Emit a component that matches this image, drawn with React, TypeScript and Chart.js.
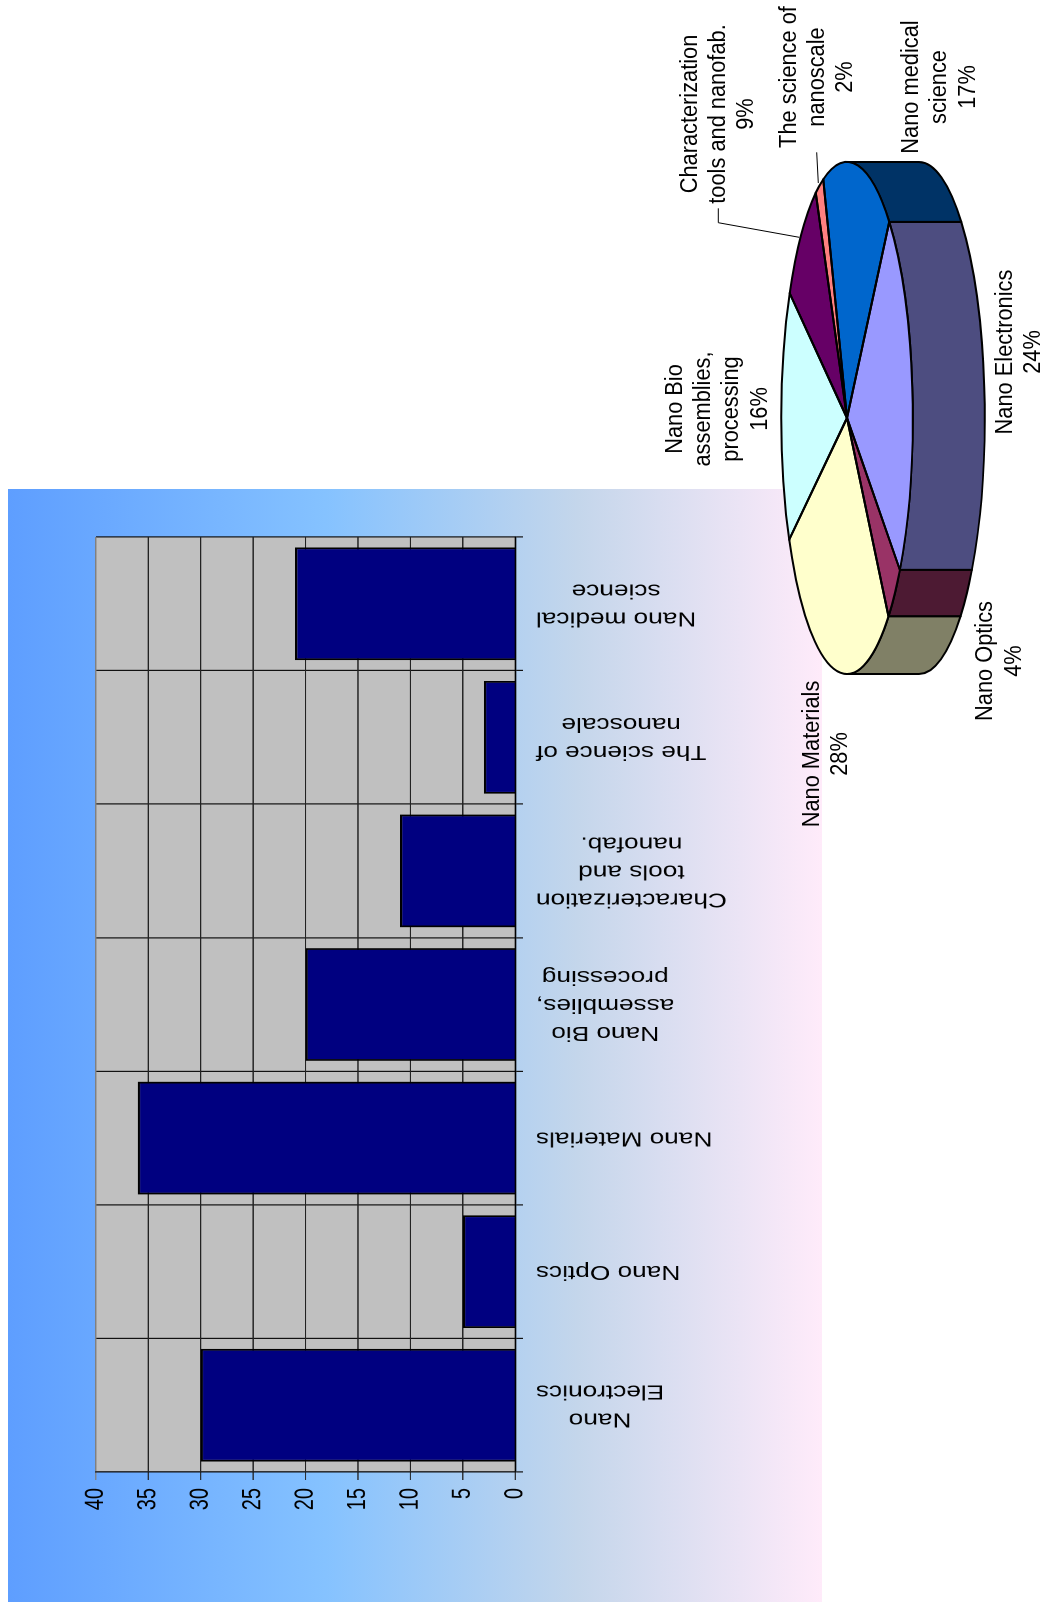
import React, { useEffect, useRef } from "react";
import { Chart, registerables } from "chart.js";

Chart.register(...registerables);

// Publications per research area
const barCategories: string[][] = [
  ["Nano", "Electronics"],
  ["Nano Optics"],
  ["Nano Materials"],
  ["Nano Bio", "assemblies,", "processing"],
  ["Characterization", "tools and", "nanofab."],
  ["The science of", "nanoscale"],
  ["Nano medical", "science"],
];
const barValues = [30, 5, 36, 20, 11, 3, 21];
const valueTicks = { min: 0, max: 40, step: 5 };

// Share of each research area, as labelled on the pie
const pieNames: string[][] = [
  ["Nano Electronics"],
  ["Nano Optics"],
  ["Nano Materials"],
  ["Nano Bio", "assemblies,", "processing"],
  ["Characterization", "tools and nanofab."],
  ["The science of", "nanoscale"],
  ["Nano medical", "science"],
];
const piePercents = [24, 4, 28, 16, 9, 2, 17];
const pieTopColors = ["#9999FF", "#993366", "#FFFFCC", "#CCFFFF", "#660066", "#FF8080", "#0066CC"];
const pieWallColors = ["#4D4D80", "#4D1A33", "#808066", "#668080", "#330033", "#804040", "#003366"];

// Page-sized drawing frame; it is turned a quarter turn to lie on its side
const FRAME_W = 1610;
const FRAME_H = 1045;

const FONT = '"Liberation Sans", Arial, sans-serif';

// Bar panel layout
const PANEL = { left: 8, top: 8, width: 1113, height: 814 };
const BAR_CANVAS_H = 621;
const BAR_STRETCH = PANEL.height / BAR_CANVAS_H;

// Pie geometry
const PIE = { cx: 1192, cy: 847, rx: 256, squash: 0.2566, depth: 72, rotation: 130 };
const PIE_TEXT_STRETCH = 1.12;
const PIE_LINE_GAP = 28.3;
const pieLabelPlaces = [
  { u: 1258, v: 1011.7 },
  { u: 949, v: 992.3 },
  { u: 856, v: 819 },
  { u: 1201, v: 681.7 },
  { u: 1496, v: 696.7 },
  { u: 1533, v: 795.7 },
  { u: 1523, v: 918 },
];
const leaderLines = [
  [
    [1401.7, 718.3],
    [1387.3, 718.3],
    [1372.7, 799.3],
  ],
  [
    [1457.7, 816.7],
    [1427, 818.3],
  ],
];

const plotBackdrop = {
  id: "plotBackdrop",
  beforeDraw(chart: any) {
    const { ctx, chartArea: a } = chart;
    ctx.save();
    ctx.fillStyle = "#C0C0C0";
    ctx.fillRect(a.left, a.top, a.right - a.left, a.bottom - a.top);
    ctx.restore();
  },
};

// Category names run sideways, each block starting at the same distance from
// the axis with its lines centred on one another.
const categoryLabels = {
  id: "categoryLabels",
  afterDraw(chart: any) {
    const { ctx, scales } = chart;
    const start = (536 - PANEL.top) / BAR_STRETCH;
    ctx.save();
    ctx.font = `20px ${FONT}`;
    ctx.fillStyle = "#000";
    ctx.textAlign = "center";
    ctx.textBaseline = "middle";
    barCategories.forEach((lines, i) => {
      const widest = Math.max(...lines.map((l) => ctx.measureText(l).width));
      const x = scales.x.getPixelForTick(i);
      lines.forEach((line, j) => {
        ctx.save();
        ctx.translate(x + (j - (lines.length - 1) / 2) * 28, start + widest / 2);
        ctx.rotate(-Math.PI / 2);
        ctx.fillText(line, 0, 0);
        ctx.restore();
      });
    });
    ctx.restore();
  },
};

// Draws the side wall under the front half of the rim, then flattens the
// library's arcs into an ellipse.
const pieDepth = {
  id: "pieDepth",
  beforeDatasetsDraw(chart: any) {
    const { ctx } = chart;
    const arcs = chart.getDatasetMeta(0).data;
    const ry = PIE.rx * PIE.squash;
    ctx.save();
    ctx.strokeStyle = "#000";
    ctx.lineWidth = 2;
    ctx.lineJoin = "round";
    arcs.forEach((arc: any, i: number) => {
      for (let k = -1; k <= 2; k++) {
        const lo = Math.max(arc.startAngle, k * 2 * Math.PI);
        const hi = Math.min(arc.endAngle, k * 2 * Math.PI + Math.PI);
        if (hi <= lo) continue;
        ctx.beginPath();
        ctx.ellipse(arc.x, arc.y, PIE.rx, ry, 0, lo, hi);
        ctx.ellipse(arc.x, arc.y + PIE.depth, PIE.rx, ry, 0, hi, lo, true);
        ctx.closePath();
        ctx.fillStyle = pieWallColors[i];
        ctx.fill();
        ctx.stroke();
      }
    });
    ctx.restore();

    const { x, y } = arcs[0];
    ctx.save();
    ctx.translate(x, y);
    ctx.scale(1, PIE.squash);
    ctx.translate(-x, -y);
  },
  afterDatasetsDraw(chart: any) {
    const { ctx } = chart;
    ctx.restore();
    const arcs = chart.getDatasetMeta(0).data;
    const ry = PIE.rx * PIE.squash;
    ctx.save();
    ctx.strokeStyle = "#000";
    ctx.lineWidth = 2;
    ctx.lineJoin = "round";
    arcs.forEach((arc: any) => {
      ctx.beginPath();
      ctx.moveTo(arc.x, arc.y);
      ctx.ellipse(arc.x, arc.y, PIE.rx, ry, 0, arc.startAngle, arc.endAngle);
      ctx.closePath();
      ctx.stroke();
    });
    ctx.restore();
  },
};

const pieCaptions = {
  id: "pieCaptions",
  afterDraw(chart: any) {
    const { ctx } = chart;
    ctx.save();
    ctx.strokeStyle = "#000";
    ctx.lineWidth = 1;
    leaderLines.forEach((pts) => {
      ctx.beginPath();
      pts.forEach(([u, v], i) => (i ? ctx.lineTo(u, v) : ctx.moveTo(u, v)));
      ctx.stroke();
    });
    ctx.font = `21.8px ${FONT}`;
    ctx.fillStyle = "#000";
    ctx.textAlign = "center";
    ctx.textBaseline = "alphabetic";
    pieNames.forEach((name, i) => {
      const lines = [...name, `${piePercents[i]}%`];
      const place = pieLabelPlaces[i];
      lines.forEach((line, j) => {
        ctx.save();
        ctx.translate(place.u, place.v + j * PIE_LINE_GAP);
        ctx.scale(1, PIE_TEXT_STRETCH);
        ctx.fillText(line, 0, 0);
        ctx.restore();
      });
    });
    ctx.restore();
  },
};

export default function App() {
  const barRef = useRef<HTMLCanvasElement>(null);
  const pieRef = useRef<HTMLCanvasElement>(null);

  useEffect(() => {
    document.body.style.margin = "0";

    const bar = new Chart(barRef.current!, {
      type: "bar",
      data: {
        labels: barCategories.map((l) => l.join(" ")),
        datasets: [
          {
            data: barValues,
            backgroundColor: "#000080",
            borderColor: "#000",
            borderWidth: 1.8,
            barPercentage: 0.844,
            categoryPercentage: 1,
          },
        ],
      },
      options: {
        responsive: false,
        animation: false,
        devicePixelRatio: 2,
        layout: { padding: { left: 0, right: 48, top: 67, bottom: 0 } },
        plugins: { legend: { display: false }, tooltip: { enabled: false } },
        scales: {
          x: {
            afterFit: (s: any) => {
              s.height = 234;
            },
            ticks: { display: false, autoSkip: false },
            border: { color: "#000", width: 1.2 },
            grid: {
              offset: true,
              tickLength: 6,
              lineWidth: 1.2,
              color: (c: any) => (c.index === barValues.length ? "#808080" : "#111"),
            },
          },
          y: {
            min: valueTicks.min,
            max: valueTicks.max,
            afterFit: (s: any) => {
              s.width = 130;
            },
            ticks: {
              stepSize: valueTicks.step,
              padding: 8,
              color: "#000",
              font: { family: FONT, size: 20 },
            },
            border: { color: "#111", width: 1.2 },
            grid: {
              tickLength: 8,
              lineWidth: 0.9,
              color: (c: any) => (c.tick && c.tick.value === valueTicks.max ? "#808080" : "#222"),
            },
          },
        },
      },
      plugins: [plotBackdrop, categoryLabels],
    } as any);

    const pie = new Chart(pieRef.current!, {
      type: "pie",
      data: {
        labels: pieNames.map((l) => l.join(" ")),
        datasets: [
          {
            data: piePercents,
            backgroundColor: pieTopColors,
            borderWidth: 0,
            radius: PIE.rx,
          },
        ],
      },
      options: {
        responsive: false,
        animation: false,
        rotation: PIE.rotation,
        layout: {
          padding: {
            left: PIE.cx - (FRAME_W - PIE.cx),
            top: PIE.cy - (FRAME_H - PIE.cy),
            right: 0,
            bottom: 0,
          },
        },
        plugins: { legend: { display: false }, tooltip: { enabled: false } },
      },
      plugins: [pieDepth, pieCaptions],
    } as any);

    return () => {
      bar.destroy();
      pie.destroy();
    };
  }, []);

  return (
    <div
      style={{
        position: "absolute",
        left: 0,
        top: 0,
        width: FRAME_W,
        height: FRAME_H,
        transformOrigin: "0 0",
        transform: `translateY(${FRAME_W}px) rotate(-90deg)`,
      }}
    >
      <div
        style={{
          position: "absolute",
          left: PANEL.left,
          top: PANEL.top,
          width: PANEL.width,
          height: PANEL.height,
          background: "linear-gradient(to bottom, #5E9EFF 0%, #85C2FF 39%, #C4D6EB 70%, #FFEBFA 100%)",
        }}
      >
        <div style={{ position: "absolute", left: 0, top: 0, transformOrigin: "0 0", transform: `scaleY(${BAR_STRETCH})` }}>
          <canvas ref={barRef} width={PANEL.width} height={BAR_CANVAS_H} style={{ display: "block" }} />
        </div>
      </div>
      <canvas ref={pieRef} width={FRAME_W} height={FRAME_H} style={{ position: "absolute", left: 0, top: 0, display: "block" }} />
    </div>
  );
}
